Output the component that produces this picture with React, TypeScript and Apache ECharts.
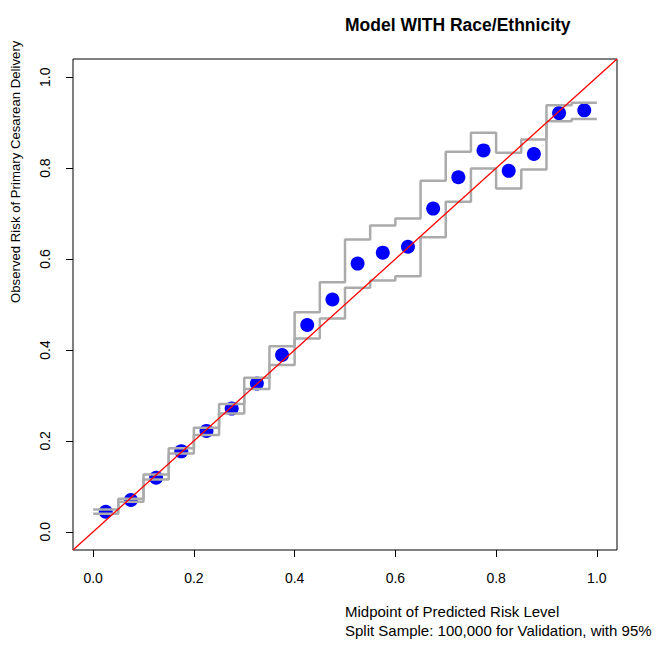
import React, { useEffect, useRef } from "react";
import * as echarts from "echarts";

const binMids = [0.025, 0.075, 0.125, 0.175, 0.225, 0.275, 0.325, 0.375, 0.425, 0.475, 0.525, 0.575, 0.625, 0.675, 0.725, 0.775, 0.825, 0.875, 0.925, 0.975];
const binHalfWidth = 0.025;
const observed = [0.044, 0.070, 0.119, 0.177, 0.222, 0.271, 0.326, 0.389, 0.455, 0.511, 0.590, 0.614, 0.627, 0.711, 0.780, 0.839, 0.794, 0.831, 0.921, 0.927];
const upperCI = [0.049, 0.073, 0.126, 0.184, 0.229, 0.281, 0.339, 0.408, 0.483, 0.549, 0.643, 0.674, 0.689, 0.772, 0.836, 0.878, 0.834, 0.863, 0.938, 0.944];
const lowerCI = [0.040, 0.066, 0.115, 0.172, 0.213, 0.260, 0.314, 0.367, 0.425, 0.469, 0.537, 0.553, 0.562, 0.648, 0.726, 0.799, 0.755, 0.797, 0.903, 0.908];
const tickValues = [0, 0.2, 0.4, 0.6, 0.8, 1.0];
const axisRange = [-0.04, 1.04];

const titleText = "Model WITH Race/Ethnicity";
const xLabel1 = "Midpoint of Predicted Risk Level";
const xLabel2 = "Split Sample: 100,000 for Validation, with 95%";
const yLabel = "Observed Risk of Primary Cesarean Delivery";

const FONT = "'Liberation Sans', Arial, sans-serif";

function stepData(vals: number[]) {
  const d = binMids.map((m, i) => [m - binHalfWidth, vals[i]]);
  const last = vals.length - 1;
  d.push([binMids[last] + binHalfWidth, vals[last]]);
  return d;
}

export default function App() {
  const ref = useRef<HTMLDivElement>(null);
  useEffect(() => {
    if (!ref.current) return;
    const chart = echarts.init(ref.current, null, { renderer: "svg" });
    const axisCommon = {
      type: "value" as const,
      min: axisRange[0],
      max: axisRange[1],
      axisLine: { show: false, onZero: false },
      splitLine: { show: false },
      axisTick: {
        show: true,
        length: 7,
        customValues: tickValues,
        lineStyle: { color: "#000", width: 1 },
      },
      axisLabel: {
        customValues: tickValues,
        formatter: (v: number) => v.toFixed(1),
        color: "#000",
        fontSize: 14,
        fontFamily: FONT,
      },
    };
    chart.setOption({
      animation: false,
      backgroundColor: "#fff",
      grid: {
        left: 73,
        top: 59,
        right: 40,
        bottom: 97,
        show: true,
        borderColor: "#000",
        borderWidth: 1,
      },
      xAxis: {
        ...axisCommon,
        axisLabel: { ...axisCommon.axisLabel, margin: 21 },
      },
      yAxis: {
        ...axisCommon,
        axisLabel: { ...axisCommon.axisLabel, margin: 21, rotate: 90 },
      },
      series: [
        {
          type: "scatter",
          data: binMids.map((m, i) => [m, observed[i]]),
          symbolSize: 14,
          itemStyle: { color: "#0000FF", opacity: 1 },
          z: 2,
        },
        {
          type: "line",
          step: "end",
          data: stepData(upperCI),
          showSymbol: false,
          lineStyle: { color: "#ABABAB", width: 2.5 },
          z: 3,
        },
        {
          type: "line",
          step: "end",
          data: stepData(lowerCI),
          showSymbol: false,
          lineStyle: { color: "#ABABAB", width: 2.5 },
          z: 3,
        },
        {
          type: "line",
          data: [
            [axisRange[0], axisRange[0]],
            [axisRange[1], axisRange[1]],
          ],
          showSymbol: false,
          lineStyle: { color: "#FF0000", width: 1.3 },
          z: 4,
        },
      ],
      graphic: [
        {
          type: "text",
          left: 345,
          top: 16,
          style: {
            text: titleText,
            font: `bold 17.5px ${FONT}`,
            fill: "#000",
          },
        },
        {
          type: "text",
          left: 345,
          top: 604,
          style: {
            text: xLabel1,
            font: `15px ${FONT}`,
            fill: "#000",
          },
        },
        {
          type: "text",
          left: 345,
          top: 623,
          style: {
            text: xLabel2,
            font: `15px ${FONT}`,
            fill: "#000",
          },
        },
        {
          type: "text",
          x: 15,
          y: 303,
          rotation: Math.PI / 2,
          style: {
            text: yLabel,
            font: `13.2px ${FONT}`,
            fill: "#000",
            align: "left",
            verticalAlign: "middle",
          },
        },
      ],
    });
    return () => chart.dispose();
  }, []);
  return (
    <div
      ref={ref}
      style={{ position: "absolute", left: 0, top: 0, width: 657, height: 647 }}
    />
  );
}
